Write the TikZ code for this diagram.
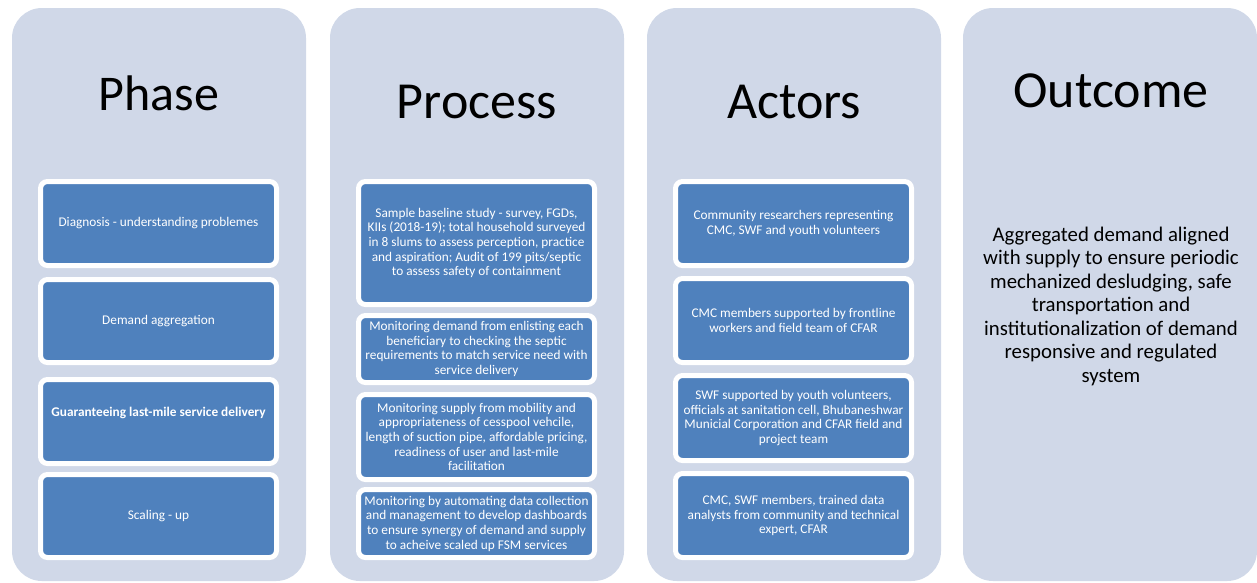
\documentclass[tikz,border=0pt]{standalone}
\usepackage{fontspec}
\setmainfont{Carlito}
\usepackage{tikz}

\definecolor{colbg}{RGB}{208,216,232}
\definecolor{itemblue}{RGB}{79,129,189}

\tikzset{
  column/.style={
    rectangle,
    fill=colbg,
    rounded corners=30pt,
    minimum width=294pt,
    minimum height=573pt,
    inner sep=0pt},
  heading/.style={
    anchor=base,
    text=black,
    font=\fontsize{52}{60}\selectfont},
  item/.style={
    rectangle,
    draw=white,
    line width=5pt,
    fill=itemblue,
    rounded corners=7pt,
    text=white,
    align=center,
    inner sep=1pt,
    minimum width=236pt,
    font=\fontsize{13.3}{14.7}\selectfont}
}

\begin{document}
\begin{tikzpicture}[x=1pt,y=-1pt]
  \useasboundingbox
    (0,0)
    rectangle
    (1257,582);
  \node[column]
    (phasecol)
    at (159,294.5)
    {};
  \node[column]
    (processcol)
    at (477,294.5)
    {};
  \node[column]
    (actorscol)
    at (794,294.5)
    {};
  \node[column]
    (outcomecol)
    at (1110,294.5)
    {};
  \node[heading,font=\fontsize{50}{60}\selectfont]
    (phasetitle)
    at (159,110)
    {Phase};
  \node[heading]
    (processtitle)
    at (477,118)
    {Process};
  \node[heading]
    (actorstitle)
    at (794,118)
    {Actors};
  \node[heading]
    (outcometitle)
    at (1111,107)
    {Outcome};
  \node[item,minimum height=84pt]
    (diag)
    at (158.5,223.5)
    {Diagnosis - understanding problemes};
  \node[item,minimum height=83pt]
    (demand)
    at (158.5,321)
    {Demand aggregation};
  \node[item,minimum height=84pt,font=\fontsize{13.3}{14.7}\selectfont\bfseries]
    (lastmile)
    at (158.5,421.5)
    {Guaranteeing last-mile service delivery\\[4pt]};
  \node[item,minimum height=83pt]
    (scaling)
    at (158.5,516)
    {Scaling - up};
  \node[item,minimum height=123pt]
    (baseline)
    at (476.5,243)
    {Sample baseline study - survey, FGDs,\\
     KIIs (2018-19); total household surveyed\\
     in 8 slums to assess perception, practice\\
     and aspiration; Audit of 199 pits/septic\\
     to assess safety of containment};
  \node[item,minimum height=67pt]
    (mondemand)
    at (476.5,349)
    {Monitoring demand from enlisting each\\
     beneficiary to checking the septic\\
     requirements to match service need with\\
     service delivery};
  \node[item,minimum height=85pt]
    (monsupply)
    at (476.5,437)
    {Monitoring supply from mobility and\\
     appropriateness of cesspool vehcile,\\
     length of suction pipe, affordable pricing,\\
     readiness of user and last-mile\\
     facilitation};
  \node[item,minimum height=68pt]
    (monauto)
    at (476.5,523.5)
    {Monitoring by automating data collection\\
     and management to develop dashboards\\
     to ensure synergy of demand and supply\\
     to acheive scaled up FSM services};
  \node[item,minimum height=84pt]
    (researchers)
    at (793.5,223.5)
    {Community researchers representing\\
     CMC, SWF and youth volunteers};
  \node[item,minimum height=84pt]
    (cmc)
    at (793.5,320.5)
    {CMC members supported by frontline\\
     workers and field team of CFAR};
  \node[item,minimum height=85pt]
    (swf)
    at (793.5,418)
    {SWF supported by youth volunteers,\\
     officials at sanitation cell, Bhubaneshwar\\
     Municial Corporation and CFAR field and\\
     project team};
  \node[item,minimum height=84pt]
    (analysts)
    at (793.5,515.5)
    {CMC, SWF members, trained data\\
     analysts from community and technical\\
     expert, CFAR};
  \node[align=center,text=black,font=\fontsize{20.8}{23.5}\selectfont]
    (outcometext)
    at (1111,306)
    {Aggregated demand aligned\\
     with supply to ensure periodic\\
     mechanized desludging, safe\\
     transportation and\\
     institutionalization of demand\\
     responsive and regulated\\
     system};
\end{tikzpicture}
\end{document}
